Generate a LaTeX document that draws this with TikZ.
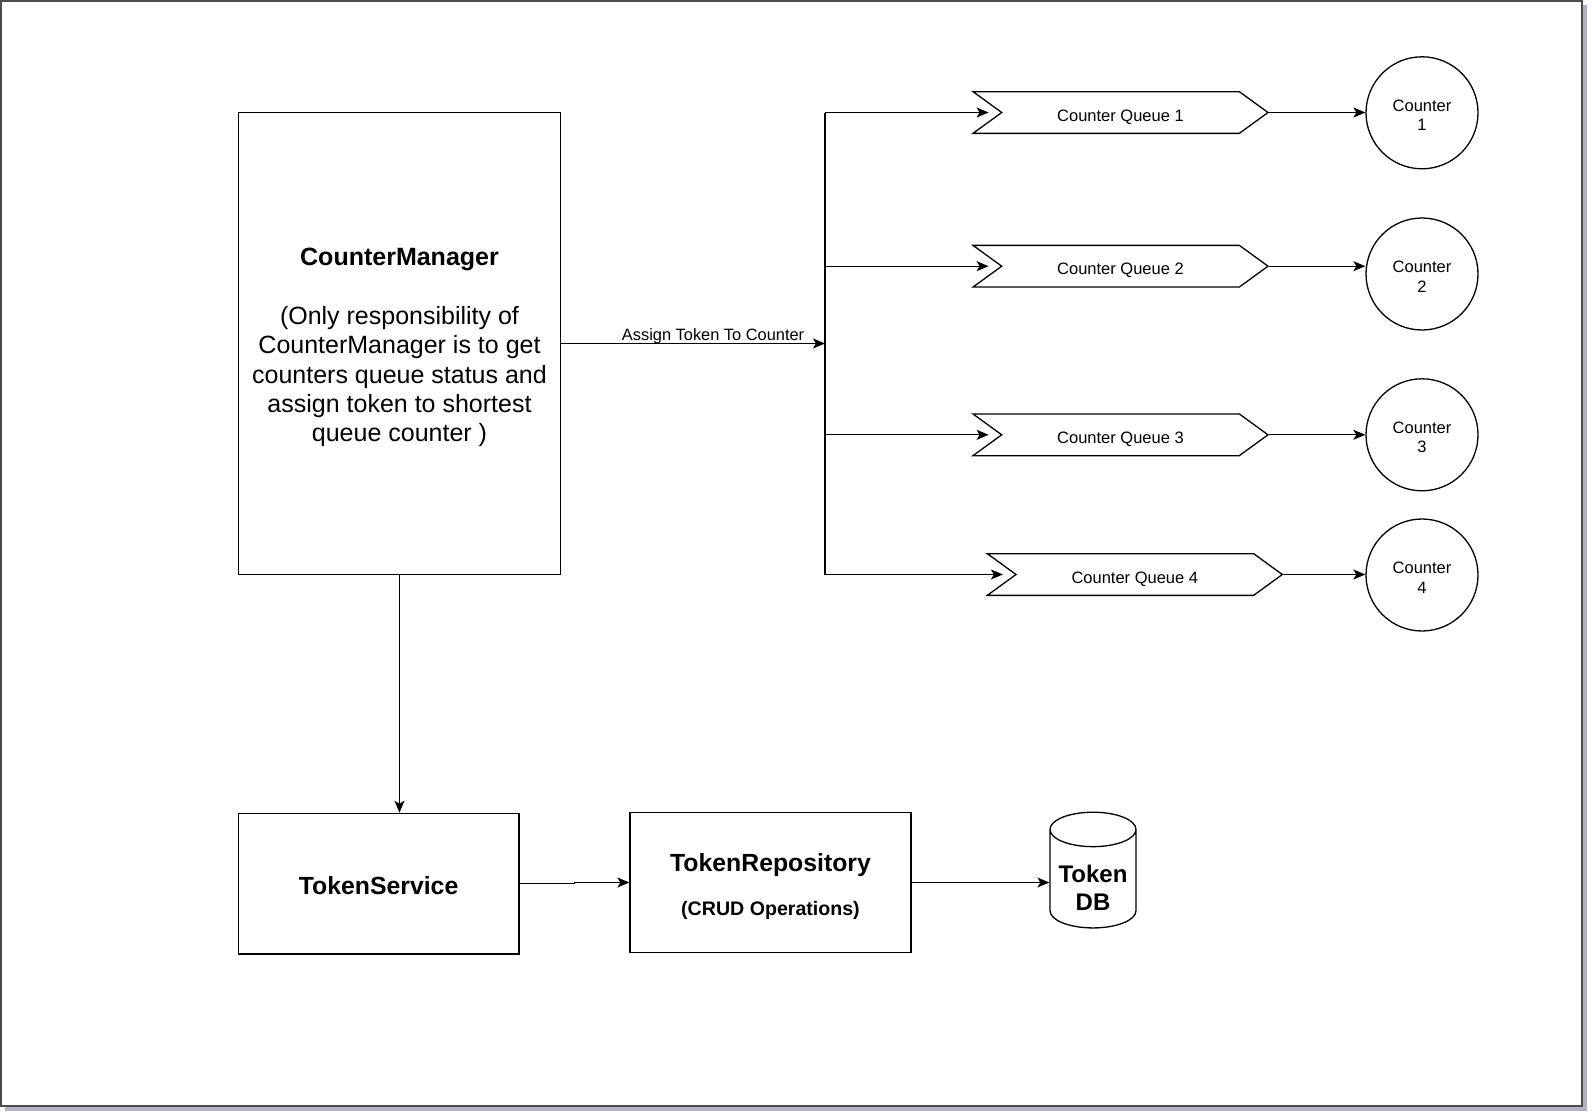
\documentclass[tikz,border=0pt]{standalone}
\usepackage{fontspec}
\setmainfont{Liberation Sans}
\usetikzlibrary{arrows.meta,shapes.symbols,shapes.geometric}

\definecolor{shadowgray}{RGB}{178,178,196}

\begin{document}
\begin{tikzpicture}[x=1pt, y=-1pt, line width=1.3pt,
    arr/.style={-{Stealth[length=12pt, width=10pt, inset=3pt]}},
    block/.style={draw, fill=white, align=center, inner sep=0pt},
    queuebox/.style={draw, fill=white, signal, signal from=west, signal to=east,
        signal pointer angle=72, minimum width=295pt, minimum height=41.7pt,
        inner sep=0pt, text height=18pt, text depth=1pt, font=\fontsize{16.5}{19.5}\selectfont},
    counter/.style={draw, fill=white, circle, minimum size=112pt, inner sep=0pt,
        align=center, font=\fontsize{16.5}{19.3}\selectfont}]
    \useasboundingbox (0,0) rectangle (1592,1116);

    % page frame with its shadow
    \fill[shadowgray] (5,5) rectangle (1587,1111);
    \draw[black!70, line width=1.5pt, fill=white] (1,1) rectangle (1582,1106);

    \node[block, minimum width=322pt, minimum height=462pt, font=\fontsize{25}{29.4}\selectfont] (cm) at (399.5,343.5) {\rule{0pt}{25.5pt}\textbf{CounterManager}\\[29.4pt]
        (Only responsibility of\\ CounterManager is to get\\ counters queue status and\\ assign token to shortest\\ queue counter )};
    \node[block, minimum width=280.5pt, minimum height=140.7pt, text height=22pt, text depth=0pt,
        font=\bfseries\fontsize{24.8}{29}\selectfont] (ts) at (378.6,883.7) {TokenService};
    \node[block, minimum width=281pt, minimum height=140.4pt, font=\bfseries\fontsize{19.6}{44.5}\selectfont] (tr) at (770.5,882.5) {\rule{0pt}{26.5pt}{\fontsize{24.8}{29}\selectfont TokenRepository}\\ (CRUD Operations)};
    \node[draw, fill=white, cylinder, shape border rotate=90, aspect=0.5, minimum width=86pt, minimum height=110pt,
        inner sep=0pt, align=center, font=\bfseries\fontsize{24}{28.4}\selectfont] (db) at (1093,879) {\rule{0pt}{35pt}Token\\DB};

    % queues and counters
    \node[queuebox] (q1) at (1120.5,112.5) {Counter Queue 1};
    \node[queuebox] (q2) at (1120.5,266.2) {Counter Queue 2};
    \node[queuebox] (q3) at (1120.5,434.8) {Counter Queue 3};
    \node[queuebox] (q4) at (1134.8,574.5) {Counter Queue 4};
    \node[counter] (c1) at (1422,112.8) {\rule{0pt}{17pt}Counter\\1};
    \node[counter] (c2) at (1422,274) {\rule{0pt}{17pt}Counter\\2};
    \node[counter] (c3) at (1422,434.8) {\rule{0pt}{17pt}Counter\\3};
    \node[counter] (c4) at (1422,575) {\rule{0pt}{17pt}Counter\\4};

    \coordinate (b1) at (825,112.5);
    \coordinate (b2) at (825,266.2);
    \coordinate (b3) at (825,434.8);
    \coordinate (b4) at (825,574.5);

    % connectors
    \draw[arr] (cm.east) -- node[above, inner sep=1.5pt, xshift=20pt, yshift=-3pt, font=\fontsize{16.4}{19}\selectfont] {Assign Token To Counter} (cm.east -| b1);
    \draw (b1) -- (b4);
    \foreach \i in {1,...,4} {
        \draw[arr] (b\i) -- ([xshift=-12pt]q\i.west);
        \draw[arr] (q\i.east) -- (q\i.east -| c\i.west);
    }
    \draw[arr] (cm.south) -- (cm.south |- ts.north);
    \draw[arr] (ts.east) -- ++(55,0) |- (tr.west);
    \draw[arr] (tr.east) -- (tr.east -| db.west);
\end{tikzpicture}
\end{document}
